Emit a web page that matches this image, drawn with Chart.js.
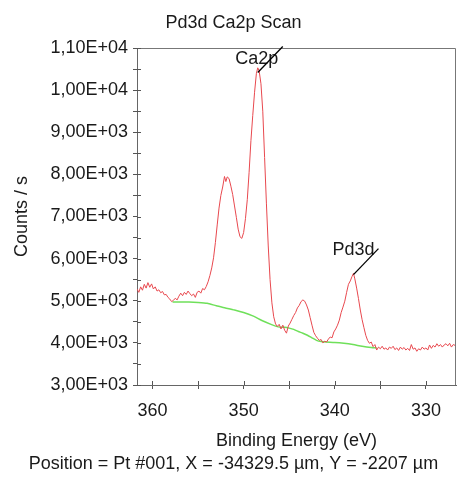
<!DOCTYPE html>
<html>
<head>
<meta charset="utf-8">
<script src="https://cdn.jsdelivr.net/npm/chart.js@4/dist/chart.umd.min.js"></script>
<style>
  html, body { margin: 0; padding: 0; background: #fff; }
  #wrap { width: 461px; height: 484px; }
</style>
</head>
<body>
<div id="wrap"><canvas id="xpsChart"></canvas></div>
<script>
// Binding energy (eV) and counts/s of the measured scan (red)
const scanEnergy = [
  361.7, 361.5, 361.3, 361.1, 360.9, 360.7, 360.5, 360.3, 360.1, 359.9,
  359.7, 359.5, 359.3, 359.1, 358.9, 358.7, 358.5, 358.3, 358.1, 357.9,
  357.7, 357.5, 357.3, 357.1, 356.9, 356.7, 356.5, 356.3, 356.1, 355.9,
  355.7, 355.5, 355.3, 355.1, 354.9, 354.7, 354.5, 354.3, 354.1, 353.9,
  353.7, 353.5, 353.3, 353.1, 352.9, 352.7, 352.5, 352.3, 352.1, 351.95,
  351.8, 351.6, 351.4, 351.2, 351.0, 350.8, 350.6, 350.4, 350.2, 350.0,
  349.8, 349.6, 349.4, 349.2, 349.0, 348.8, 348.6, 348.45, 348.3, 348.1,
  347.9, 347.7, 347.5, 347.3, 347.1, 346.9, 346.7, 346.5, 346.3, 346.1,
  345.9, 345.7, 345.5, 345.3, 345.1, 344.9, 344.7, 344.5, 344.3, 344.1,
  343.9, 343.7, 343.5, 343.3, 343.1, 342.9, 342.7, 342.5, 342.3, 342.1,
  341.9, 341.7, 341.5, 341.3, 341.1, 340.9, 340.7, 340.5, 340.3, 340.1,
  339.9, 339.7, 339.5, 339.3, 339.1, 338.9, 338.7, 338.5, 338.3, 338.1,
  337.95, 337.8, 337.6, 337.4, 337.2, 337.0, 336.8, 336.6, 336.4, 336.2,
  336.0, 335.8, 335.6, 335.4, 335.2, 335.0, 334.8, 334.6, 334.4, 334.2,
  334.0, 333.8, 333.6, 333.4, 333.2, 333.0, 332.8, 332.6, 332.4, 332.2,
  332.0, 331.8, 331.6, 331.4, 331.2, 331.0, 330.8, 330.6, 330.4, 330.2,
  330.0, 329.8, 329.6, 329.4, 329.2, 329.0, 328.8, 328.6, 328.4, 328.2,
  328.0, 327.8, 327.6, 327.4, 327.2, 327.0, 326.8
];
const scanCounts = [
  5280, 5200, 5330, 5250, 5390, 5300, 5430, 5320, 5400, 5280,
  5330, 5230, 5260, 5190, 5220, 5140, 5150, 5080, 5040, 4980,
  5010, 5060, 5020, 5110, 5180, 5120, 5200, 5150, 5230, 5170,
  5120, 5160, 5080, 5200, 5230, 5180, 5290, 5260, 5340, 5450,
  5600, 5780, 6020, 6380, 6800, 7200, 7500, 7700, 7950, 7830,
  7940, 7900, 7720, 7520, 7250, 6980, 6700, 6520, 6480, 6620,
  6950, 7400, 8050, 8800, 9400, 9950, 10400, 10530, 10460, 10150,
  9500, 8400, 7300, 6300, 5500, 4950, 4620, 4450, 4390, 4440,
  4330, 4420, 4300, 4230, 4400, 4470, 4560, 4650, 4720, 4830,
  4890, 4980, 5020, 4990, 4900, 4780, 4600, 4420, 4250, 4170,
  4110, 4060, 4080, 4000, 4040, 4020, 4090, 4140, 4120, 4260,
  4330, 4420, 4540, 4720, 4850, 4990, 5200, 5390, 5470, 5580,
  5650, 5520, 5300, 5050, 4780, 4550, 4360, 4180, 4060, 3990,
  4020, 3910, 3960, 3830, 3900, 3860, 3920, 3850, 3880, 3830,
  3900, 3870, 3920, 3840, 3880, 3820, 3900, 3850, 3890, 3830,
  3870, 3820, 3960, 3850, 3880, 3800, 3860, 3830, 3900, 3850,
  3880, 3830, 3950, 3870, 3940, 3900, 3980, 3920, 3960, 3900,
  3950, 3980, 3930, 3990, 3900, 3960, 3940
];

// Background (green)
const bgEnergy = [
  357.8, 357.0, 356.0, 355.0, 354.0, 353.0, 352.0, 351.0, 350.0, 349.0,
  348.0, 347.0, 346.2, 345.5, 345.0, 344.5, 344.0, 343.5, 343.0, 342.5,
  342.0, 341.5, 341.0, 340.0, 339.0, 338.0, 337.0, 336.0, 335.4
];
const bgCounts = [
  4970, 4970, 4970, 4960, 4940, 4880, 4830, 4780, 4720, 4640,
  4530, 4440, 4380, 4370, 4350, 4320, 4270, 4230, 4180, 4120,
  4060, 4030, 4020, 4010, 3990, 3960, 3920, 3890, 3880
];

// Peak labels (where the leader line starts)
const peakNames = ["Ca2p", "Pd3d"];
const peakEnergy = [348.45, 337.95];
const peakCounts = [10420, 5620];

const xTicks = [330, 335, 340, 345, 350, 355, 360];
const xMin = 326.7, xMax = 361.7;
const yMin = 3000, yMax = 11000;

const FONT = "'Liberation Sans', Arial, sans-serif";
const TEXT = "#1a1a1a";

function sciLabel(v) {
  const parts = v.toExponential(2).split("e");
  const e = parseInt(parts[1], 10);
  return parts[0].replace(".", ",") + "E" + (e < 0 ? "-" : "+") + String(Math.abs(e)).padStart(2, "0");
}

// frame, inner tick marks and peak labels
const framePlugin = {
  id: "frame",
  afterDatasetsDraw(chart) {
    const { ctx, chartArea: a, scales } = chart;
    ctx.save();
    ctx.strokeStyle = "#777";
    ctx.lineWidth = 1;
    ctx.beginPath();
    ctx.moveTo(a.left, a.top + 0.5);
    ctx.lineTo(a.right - 0.5, a.top + 0.5);
    ctx.lineTo(a.right - 0.5, a.bottom);
    ctx.stroke();

    ctx.strokeStyle = "#555";
    ctx.beginPath();
    scales.x.ticks.forEach(t => {
      const px = Math.round(scales.x.getPixelForValue(t.value)) + 0.5;
      ctx.moveTo(px, a.bottom);
      ctx.lineTo(px, a.bottom - 4);
    });
    scales.y.ticks.forEach(t => {
      const py = Math.round(scales.y.getPixelForValue(t.value)) + 0.5;
      ctx.moveTo(a.left, py);
      ctx.lineTo(a.left + 4, py);
    });
    ctx.stroke();

    const textOffsets = [[-26, 13], [-25, 1]];
    ctx.font = "18px " + FONT;
    ctx.fillStyle = TEXT;
    ctx.textAlign = "center";
    ctx.textBaseline = "middle";
    peakNames.forEach((name, i) => {
      const px = scales.x.getPixelForValue(peakEnergy[i]);
      const py = scales.y.getPixelForValue(peakCounts[i]);
      const ex = px + 25, ey = py - 26;
      ctx.fillText(name, ex + textOffsets[i][0], ey + textOffsets[i][1]);
      ctx.strokeStyle = "#000";
      ctx.lineWidth = 1.3;
      ctx.beginPath();
      ctx.moveTo(px, py);
      ctx.lineTo(ex, ey);
      ctx.stroke();
    });
    ctx.restore();
  }
};

const scanData = scanEnergy.map((e, i) => ({ x: e, y: scanCounts[i] }));
const bgData = bgEnergy.map((e, i) => ({ x: e, y: bgCounts[i] }));

new Chart(document.getElementById("xpsChart"), {
  type: "line",
  data: {
    datasets: [
      {
        label: "Scan",
        data: scanData,
        borderColor: "#e8484e",
        borderWidth: 1,
        pointRadius: 0,
        tension: 0
      },
      {
        label: "Background",
        data: bgData,
        borderColor: "#6fe05a",
        borderWidth: 1.5,
        pointRadius: 0,
        tension: 0.2
      }
    ]
  },
  options: {
    responsive: true,
    maintainAspectRatio: false,
    animation: false,
    layout: { padding: { left: 11, right: 5, top: 0, bottom: 0 } },
    plugins: {
      legend: { display: false },
      tooltip: { enabled: false },
      title: {
        display: true,
        text: "Pd3d Ca2p Scan",
        color: TEXT,
        font: { family: FONT, size: 18, weight: "normal" },
        padding: { top: 12, bottom: 14.4 }
      },
      subtitle: {
        display: true,
        position: "bottom",
        text: "Position = Pt #001, X = -34329.5 µm, Y = -2207 µm",
        color: TEXT,
        font: { family: FONT, size: 18, weight: "normal" },
        padding: { top: 2, bottom: 9 }
      }
    },
    scales: {
      x: {
        type: "linear",
        reverse: true,
        min: xMin,
        max: xMax,
        afterBuildTicks: s => { s.ticks = xTicks.map(v => ({ value: v })); },
        afterFit: s => { s.height = 66.4; },
        ticks: {
          color: TEXT,
          font: { family: FONT, size: 18 },
          padding: 11,
          maxRotation: 0,
          autoSkip: false,
          callback: v => (v % 10 === 0 ? String(v) : "")
        },
        grid: { drawOnChartArea: false, tickLength: 4, color: "#555" },
        border: { color: "#666" },
        title: {
          display: true,
          text: "Binding Energy (eV)",
          color: TEXT,
          font: { family: FONT, size: 18 },
          padding: { top: 0, bottom: 0 }
        }
      },
      y: {
        min: yMin,
        max: yMax,
        afterFit: s => { s.width = 126; },
        ticks: {
          stepSize: 500,
          color: TEXT,
          font: { family: FONT, size: 18 },
          padding: 5,
          autoSkip: false,
          callback: v => (v % 1000 === 0 ? sciLabel(v) : "")
        },
        grid: { drawOnChartArea: false, tickLength: 4, color: "#555" },
        border: { color: "#666" },
        title: {
          display: true,
          text: "Counts / s",
          color: TEXT,
          font: { family: FONT, size: 18 },
          padding: { top: 0, bottom: 0 }
        }
      }
    }
  },
  plugins: [framePlugin]
});
</script>
</body>
</html>
